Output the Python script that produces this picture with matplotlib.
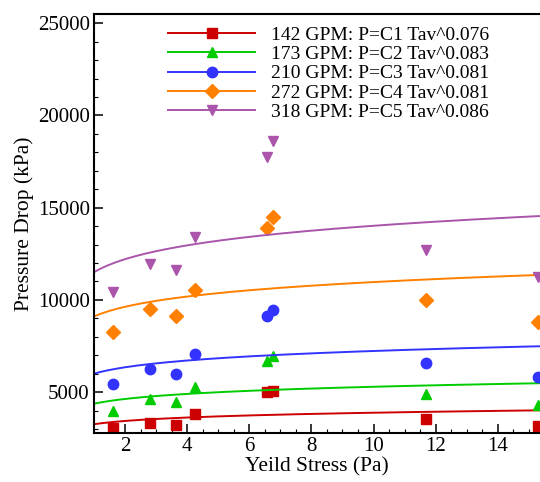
import numpy as np
import matplotlib
matplotlib.use("Agg")
import matplotlib.pyplot as plt
from matplotlib.lines import Line2D
from matplotlib.ticker import MultipleLocator

plt.rcParams['font.family'] = ['Liberation Serif', 'DejaVu Serif']

# yield stress of the test fluids (Pa)
tau = [1.6, 2.82, 3.65, 4.25, 6.58, 6.78, 11.7, 15.3]

# measured pressure drop (kPa) for each flow rate
p142 = [3060, 3330, 3240, 3800, 5000, 5080, 3530, 3150]
p173 = [3950, 4640, 4460, 5300, 6700, 6980, 4900, 4300]
p210 = [5420, 6270, 6000, 7080, 9130, 9460, 6600, 5820]
p272 = [8260, 9510, 9150, 10530, 13880, 14480, 10000, 8810]
p318 = [10450, 11960, 11630, 13420, 17770, 18590, 12730, 11250]

# power-law fit coefficients, exponents from the legend
coef = [3260, 4370, 6000, 9100, 11500]
expo = [0.076, 0.083, 0.081, 0.081, 0.086]

flows = ['142', '173', '210', '272', '318']
colors = ['#cc0000', '#00cc00', '#3333ff', '#ff8000', '#aa55aa']
markers = ['s', '^', 'o', 'D', 'v']
msizes = [7, 7.5, 7.5, 7, 7.5]

fig = plt.figure(figsize=(5.4, 4.82), dpi=100)
ax = fig.add_axes([0.174, 0.1023, 0.826, 0.8687])

xfit = np.linspace(1, 15.4, 200)
handles = []
for i, pts in enumerate([p142, p173, p210, p272, p318]):
    ax.plot(xfit, coef[i] * xfit ** expo[i], color=colors[i], lw=1.4)
    ax.plot(tau, pts, ls='none', marker=markers[i], ms=msizes[i],
            color=colors[i], mec=colors[i])
    lab = '%s GPM: P=C%d Tav^%.3f' % (flows[i], i + 1, expo[i])
    handles.append(Line2D([], [], color=colors[i], lw=1.4, marker=markers[i],
                          ms=msizes[i], label=lab))

ax.set_xlim(1, 15.36)
ax.set_ylim(2800, 25500)
ax.xaxis.set_major_locator(MultipleLocator(2))
ax.xaxis.set_minor_locator(MultipleLocator(0.5))
ax.yaxis.set_major_locator(MultipleLocator(5000))
ax.yaxis.set_minor_locator(MultipleLocator(1000))
ax.tick_params(which='major', direction='in', length=6.5, width=1.1,
               labelsize=15, pad=3, top=False, right=False)
ax.tick_params(which='minor', direction='in', length=3, width=0.8,
               top=False, right=False)
for s in ['left', 'bottom', 'top']:
    ax.spines[s].set_linewidth(1.5)
ax.spines['right'].set_visible(False)

ax.set_xlabel('Yeild Stress (Pa)', fontsize=15.5, labelpad=1)
ax.set_ylabel('Pressure Drop (kPa)', fontsize=15.5, labelpad=3)

ax.legend(handles=handles, loc='upper left', bbox_to_anchor=(0.311, 0.945),
          bbox_transform=fig.transFigure, frameon=False, fontsize=14,
          handlelength=4.5, handletextpad=0.8, labelspacing=0.08,
          numpoints=1, borderaxespad=0, borderpad=0)

fig.savefig('out.png', dpi=100)
